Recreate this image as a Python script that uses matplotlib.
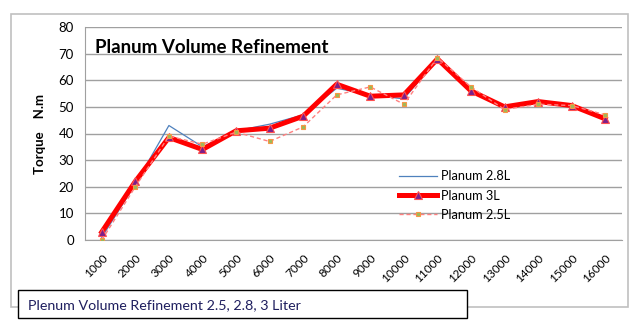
import matplotlib
matplotlib.use("Agg")
import matplotlib.pyplot as plt
from matplotlib.patches import Rectangle

rpm = ["1000", "2000", "3000", "4000", "5000", "6000", "7000", "8000",
       "9000", "10000", "11000", "12000", "13000", "14000", "15000", "16000"]
planum_28 = [1, 21, 43, 35, 41, 43.5, 47, 57, 54.5, 53, 68, 55.5, 50, 51.5, 50.5, 46]
planum_3 = [3, 22, 38.5, 34, 41, 42, 46.5, 58.5, 54, 54.5, 68, 56, 50, 52, 50.5, 45.5]
planum_25 = [0, 20, 39, 36, 40.5, 37, 42.5, 54.5, 57.5, 51, 68.5, 57.5, 49, 51, 50.5, 47]
yticks = [0, 10, 20, 30, 40, 50, 60, 70, 80]

plt.rcParams['font.family'] = ['Lato', 'DejaVu Sans']

fig = plt.figure(figsize=(6.4, 3.27), dpi=100)
W, H = 640, 327

# outer chart border
fig.patches.append(Rectangle((11 / W, 1 - 307 / H), 617 / W, 293 / H,
                             transform=fig.transFigure, fill=False,
                             edgecolor='#c0c0c0', linewidth=1.2, zorder=0))

ax = fig.add_axes([85 / W, 1 - 240 / H, 537 / W, 213 / H])
x = list(range(len(rpm)))
ax.plot(x, planum_28, color='#4f81bd', linewidth=0.9, label='Planum 2.8L', zorder=3)
ax.plot(x, planum_3, color='#ff0000', linewidth=3.6, marker='^', markersize=6,
        markerfacecolor='#7b1f8a', markeredgecolor='#ff5050', markeredgewidth=0.8,
        label='Planum 3L', zorder=4)
ax.plot(x, planum_25, color='#ff8080', linewidth=1.0, linestyle=(0, (3, 2)),
        marker='s', markersize=3.5, markerfacecolor='#9bbb59',
        markeredgecolor='#f79646', markeredgewidth=0.8,
        label='Planum 2.5L', zorder=5)

ax.set_xlim(-0.5, len(rpm) - 0.5)
ax.set_ylim(0, 80)
ax.set_yticks(yticks)
ax.set_yticklabels([str(v) for v in yticks], fontsize=9.5)
ax.set_xticks(x)
ax.set_xticklabels(rpm, rotation=45, ha='right', rotation_mode='anchor', fontsize=8.5)
ax.tick_params(length=0, pad=8)
ax.tick_params(axis='x', pad=9)
ax.grid(axis='y', color='#a0a0a0', linewidth=1.0)
ax.set_axisbelow(True)
for s in ['top', 'right']:
    ax.spines[s].set_visible(False)
for s in ['left', 'bottom']:
    ax.spines[s].set_color('#a0a0a0')

ax.set_ylabel('Torque    N.m', fontsize=9.5, fontweight='bold', labelpad=9)
ax.text(0.018, 0.905, 'Planum Volume Refinement', transform=ax.transAxes,
        fontsize=13.5, fontweight='bold', va='center', ha='left')

leg = ax.legend(loc='upper left', bbox_to_anchor=(387 / W, 1 - 159 / H),
                bbox_transform=fig.transFigure, frameon=False, fontsize=9.2,
                handlelength=3.0, handletextpad=0.3, labelspacing=0.55)

# caption box
fig.patches.append(Rectangle((18 / W, 1 - 318 / H), 449 / W, 28 / H,
                             transform=fig.transFigure, facecolor='white',
                             edgecolor='black', linewidth=1.0, zorder=5))
fig.text(28 / W, 1 - 305 / H, 'Plenum Volume Refinement 2.5, 2.8, 3 Liter',
         fontsize=10.3, color='#1f1f5f', va='center', ha='left', zorder=6)

fig.savefig('out.png', dpi=100)
